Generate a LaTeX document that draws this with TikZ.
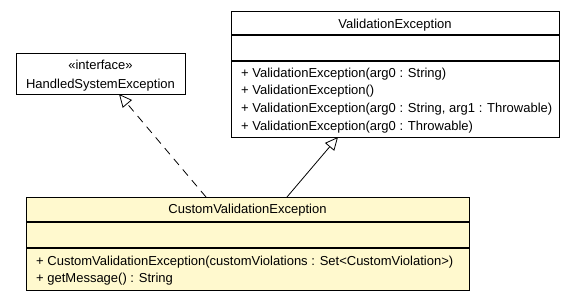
\documentclass[tikz,border=0pt]{standalone}
\usepackage{fontspec}
\setmainfont{Liberation Sans}
\usetikzlibrary{arrows.meta}
\definecolor{classfill}{RGB}{255,249,206}

\begin{document}
\begin{tikzpicture}[x=1pt,y=-1pt,
    classbox/.style={draw,line width=1pt,anchor=north west,inner sep=0pt,outer sep=0pt},
    sep/.style={line width=1.5pt},
    label/.style={inner sep=0pt,anchor=base,font=\fontsize{13}{15}\selectfont},
    member/.style={label,anchor=base west},
    inherit/.style={-{Triangle[open,length=13pt,width=12pt]},line width=0.8pt}]
    \path[fill=white,use as bounding box] (0,0) rectangle (575,301);
    %%
    \begin{scope}[shift={(16,53)}]
      \node[classbox,minimum width=169pt,minimum height=41pt] (HSE) at (0,0) {};
      \node[label] (HSEstereo) at (84.5,16) {«interface»};
      \node[label] (HSEname) at (84.5,35) {HandledSystemException};
    \end{scope}
    %%
    \begin{scope}[shift={(231,11)}]
      \node[classbox,minimum width=328pt,minimum height=126pt] (VE) at (0,0) {};
      \node[label] (VEname) at (164,17) {ValidationException};
      \draw[sep] ([yshift=-24pt]VE.north west) -- ([yshift=-24pt]VE.north east);
      \draw[sep] ([yshift=-50pt]VE.north west) -- ([yshift=-50pt]VE.north east);
      \node[member] (VEm1) at (10,66) {+ ValidationException(arg0 : String)};
      \node[member] (VEm2) at (10,83.5) {+ ValidationException()};
      \node[member] (VEm3) at (10,101) {+ ValidationException(arg0 : String, arg1 : Throwable)};
      \node[member] (VEm4) at (10,119) {+ ValidationException(arg0 : Throwable)};
    \end{scope}
    %%
    \begin{scope}[shift={(26,197)}]
      \node[classbox,fill=classfill,minimum width=443pt,minimum height=93pt] (CVE) at (0,0) {};
      \node[label] (CVEname) at (221.5,16) {CustomValidationException};
      \draw[sep] ([yshift=-25pt]CVE.north west) -- ([yshift=-25pt]CVE.north east);
      \draw[sep] ([yshift=-51pt]CVE.north west) -- ([yshift=-51pt]CVE.north east);
      \node[member] (CVEm1) at (10,68) {+ CustomValidationException(customViolations : Set<CustomViolation>)};
      \node[member] (CVEm2) at (10,85) {+ getMessage() : String};
    \end{scope}
    %%
    \draw[inherit,dash pattern=on 8pt off 6pt] ([xshift=180pt]CVE.north west) -- ([xshift=103pt]HSE.south west);
    \draw[inherit] ([xshift=261pt]CVE.north west) -- ([xshift=107pt]VE.south west);
\end{tikzpicture}
\end{document}
